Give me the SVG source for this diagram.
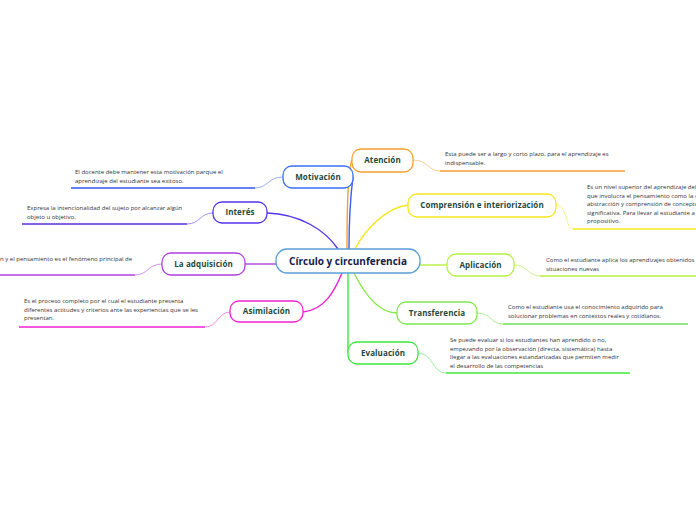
<svg xmlns="http://www.w3.org/2000/svg" width="696" height="520" viewBox="0 0 696 520">
<style>
.n{fill:#fff;stroke-width:1.3}
.lb{font-family:"Open Sans",sans-serif;font-weight:bold;font-size:8px;fill:#1d4a3c;text-anchor:middle;letter-spacing:0.1px}
.ct{font-family:"Open Sans",sans-serif;font-weight:bold;font-size:10px;fill:#14224a;text-anchor:middle}
.d{font-family:"Open Sans",sans-serif;font-size:6px;fill:#333}
.u{fill:none;stroke-width:1.6}
.c{fill:none;stroke-width:1.4}
.s{fill:none;stroke-width:0.9}
</style>
<rect width="696" height="520" fill="#fff"/>
<g id="connectors">
<path class="c" stroke="#f4a030" d="M352,160 C347,170 347,230 347,249"/>
<path class="c" stroke="#3d5ef0" d="M353,177 C350,200 349,230 349,249"/>
<path class="c" stroke="#5533ee" d="M267,213 C300,214 325,230 338,249"/>
<path class="c" stroke="#f5e71b" d="M408,205 C385,208 365,230 355,249"/>
<path class="c" stroke="#b5f040" d="M420,265 L447,265"/>
<path class="c" stroke="#b040e0" d="M245,264 L276,264"/>
<path class="c" stroke="#f020d0" d="M303,312 C325,310 335,290 342,273"/>
<path class="c" stroke="#8ae84a" d="M354,273 C365,295 380,313 397,313"/>
<path class="c" stroke="#3ee83a" d="M348,273 C348,300 348,340 348,353"/>
<path class="s" stroke="#f8c888" d="M413,160 C428,160 428,171 440,171"/>
<path class="s" stroke="#f8ee70" d="M556,205 C568,205 565,229 573,229"/>
<path class="s" stroke="#c8f080" d="M514,265 C528,265 528,276 540,276"/>
<path class="s" stroke="#a0f080" d="M477,313 C492,313 490,324 503,324"/>
<path class="s" stroke="#90f090" d="M418,353 C433,353 432,373 446,373"/>
<path class="s" stroke="#88a8f8" d="M255,188 C268,188 268,177 283,177"/>
<path class="s" stroke="#9a80f0" d="M187,224 C200,224 200,213 213,213"/>
<path class="s" stroke="#d080f0" d="M135,275 C148,275 148,264 162,264"/>
<path class="s" stroke="#f080e0" d="M205,327 C218,327 218,312 230,312"/>
<path class="u" stroke="#f4a030" d="M440,171 L625,171"/>
<path class="u" stroke="#f5e71b" d="M573,229 L696,229"/>
<path class="u" stroke="#b5f040" d="M540,276 L696,276"/>
<path class="u" stroke="#6de05a" d="M503,324 L688,324"/>
<path class="u" stroke="#3ee83a" d="M446,373 L630,373"/>
<path class="u" stroke="#3355ee" d="M71,188 L255,188"/>
<path class="u" stroke="#5a2ee0" d="M22,224 L187,224"/>
<path class="u" stroke="#b040e0" d="M0,275 L135,275"/>
<path class="u" stroke="#f020d0" d="M19,327 L205,327"/>
</g>
<g id="center">
<rect class="n" stroke="#5a9fd8" x="276" y="249" width="144" height="24" rx="11"/>
<text class="ct" x="348" y="264.5">Círculo y circunferencia</text>
</g>
<g id="atencion">
<rect class="n" stroke="#f4a030" x="352" y="149" width="61" height="23" rx="9"/>
<text class="lb" x="382.5" y="163.3">Atención</text>
<text class="d" x="445" y="156">Esta puede ser a largo y corto plazo, para el aprendizaje es</text>
<text class="d" x="445" y="165">indispensable.</text>
</g>
<g id="comprension">
<rect class="n" stroke="#f5e71b" x="408" y="194" width="148" height="23" rx="9"/>
<text class="lb" x="482" y="208.3">Comprensión e interiorización</text>
<text class="d" x="587" y="189">Es un nivel superior del aprendizaje deb</text>
<text class="d" x="587" y="197.5">que involucra el pensamiento como la c</text>
<text class="d" x="587" y="206">abstracción y comprensión de concepto</text>
<text class="d" x="587" y="214.5">significativa. Para llevar al estudiante a</text>
<text class="d" x="587" y="223">propositivo.</text>
</g>
<g id="aplicacion">
<rect class="n" stroke="#b5f040" x="447" y="254" width="67" height="22" rx="9"/>
<text class="lb" x="480.5" y="267.8">Aplicación</text>
<text class="d" x="546" y="262">Como el estudiante aplica los aprendizajes obtenidos e</text>
<text class="d" x="546" y="271">situaciones nuevas</text>
</g>
<g id="transferencia">
<rect class="n" stroke="#7de850" x="397" y="302" width="80" height="22" rx="9"/>
<text class="lb" x="437" y="315.8">Transferencia</text>
<text class="d" x="508" y="309">Como el estudiante usa el conocimiento adquirido para</text>
<text class="d" x="508" y="318">solucionar problemas en contextos reales y cotidianos.</text>
</g>
<g id="evaluacion">
<rect class="n" stroke="#3ee83a" x="348" y="342" width="70" height="22" rx="9"/>
<text class="lb" x="383" y="355.8">Evaluación</text>
<text class="d" x="450" y="342">Se puede evaluar si los estudiantes han aprendido o no,</text>
<text class="d" x="450" y="350.5">empezando por la observación (directa, sistemática) hasta</text>
<text class="d" x="450" y="359">llegar a las evaluaciones estandarizadas que permiten medir</text>
<text class="d" x="450" y="367.5">el desarrollo de las competencias</text>
</g>
<g id="motivacion">
<rect class="n" stroke="#3d6ef5" x="283" y="166" width="70" height="22" rx="9"/>
<text class="lb" x="318" y="179.8">Motivación</text>
<text class="d" x="75" y="174">El docente debe mantener esta motivación parque el</text>
<text class="d" x="75" y="183">aprendizaje del estudiante sea exitoso.</text>
</g>
<g id="interes">
<rect class="n" stroke="#5533ee" x="213" y="202" width="54" height="21" rx="9"/>
<text class="lb" x="240" y="215.3">Interés</text>
<text class="d" x="27" y="210">Expresa la intencionalidad del sujeto por alcanzar algún</text>
<text class="d" x="27" y="218.5">objeto u objetivo.</text>
</g>
<g id="adquisicion">
<rect class="n" stroke="#b040e0" x="162" y="253" width="83" height="22" rx="9"/>
<text class="lb" x="203.5" y="266.8">La adquisición</text>
<text class="d" x="0" y="261">n y el pensamiento es el fenómeno principal de</text>
</g>
<g id="asimilacion">
<rect class="n" stroke="#f020d0" x="230" y="301" width="73" height="21" rx="9"/>
<text class="lb" x="266.5" y="314.3">Asimilación</text>
<text class="d" x="24" y="303">Es el proceso completo por el cual el estudiante presenta</text>
<text class="d" x="24" y="311.5">diferentes actitudes y criterios ante las experiencias que se les</text>
<text class="d" x="24" y="320">presentan.</text>
</g>
</svg>
